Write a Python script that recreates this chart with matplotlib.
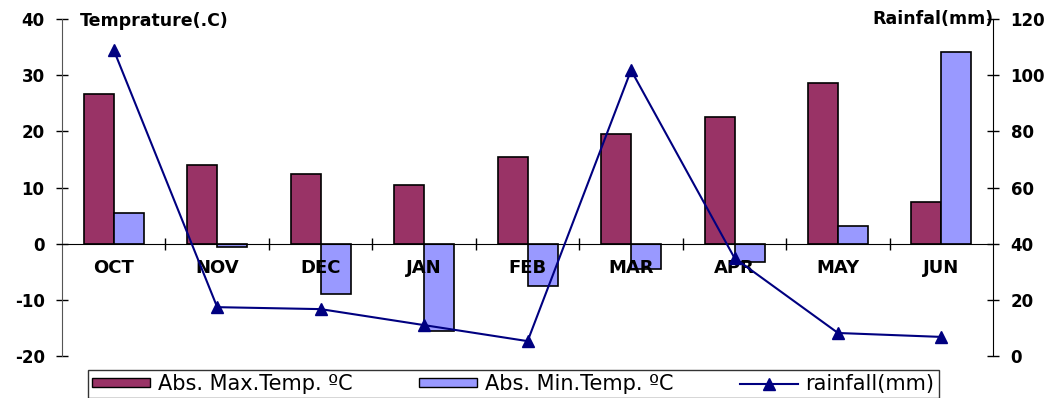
import numpy as np
import matplotlib.pyplot as plt
from matplotlib.patches import Patch
from matplotlib.lines import Line2D

plt.rcParams['font.family'] = ['DejaVu Sans']
plt.rcParams['axes.unicode_minus'] = False

months = ["OCT", "NOV", "DEC", "JAN", "FEB", "MAR", "APR", "MAY", "JUN"]
max_temp = [26.6, 14.1, 12.5, 10.4, 15.5, 19.6, 22.5, 28.7, 7.5]
min_temp = [5.4, -0.5, -8.9, -15.6, -7.6, -4.5, -3.2, 3.2, 34.1]
rainfall = [109, 17.4, 16.7, 11, 5.3, 101.8, 34.9, 8.2, 6.8]

max_color = "#993366"
min_color = "#9999FF"
rain_color = "#000080"

x = np.arange(len(months))
w = 0.29

fig = plt.figure(figsize=(10.51, 3.98), dpi=100)
ax = fig.add_axes([0.059, 0.1055, 0.886, 0.8465])

ax.bar(x - w / 2, max_temp, w, color=max_color, edgecolor="black", linewidth=1.2, zorder=1)
ax.bar(x + w / 2, min_temp, w, color=min_color, edgecolor="black", linewidth=1.2, zorder=1)

ax.set_xlim(-0.5, len(months) - 0.5)
ax.set_ylim(-20, 40)
ax.set_yticks([-20, -10, 0, 10, 20, 30, 40])
ax.tick_params(axis="y", direction="inout", length=9, width=1, labelsize=12, pad=8)
for t in ax.get_yticklabels():
    t.set_fontweight("bold")

# category axis sits on the zero line
ax.spines["bottom"].set_position(("data", 0))
ax.spines["top"].set_visible(False)
ax.spines["right"].set_visible(False)
ax.spines["left"].set_color("#555555")
ax.set_xticks(np.arange(0.5, len(months) - 1, 1.0))
ax.set_xticklabels([])
ax.set_xticks(x, minor=True)
ax.set_xticklabels(months, minor=True, fontsize=13, fontweight="bold")
ax.tick_params(axis="x", which="major", direction="inout", length=8, width=1)
ax.tick_params(axis="x", which="minor", length=0, pad=11)

ax.text(0.019, 0.995, "Temprature(.C)", transform=ax.transAxes, fontsize=12.5,
        fontweight="bold", ha="left", va="center")

ax2 = ax.twinx()
ax2.plot(x, rainfall, color=rain_color, linewidth=1.5, marker="^", markersize=9, zorder=3)
ax2.set_ylim(0, 120)
ax2.set_yticks([0, 20, 40, 60, 80, 100, 120])
ax2.tick_params(axis="y", direction="inout", length=9, width=1, labelsize=12, pad=8)
for t in ax2.get_yticklabels():
    t.set_fontweight("bold")
for s in ["top", "bottom", "left"]:
    ax2.spines[s].set_visible(False)
ax2.text(1.0, 1.0, "Rainfal(mm)", transform=ax2.transAxes, fontsize=12.5,
         fontweight="bold", ha="right", va="center")

handles = [
    Patch(facecolor=max_color, edgecolor="black", linewidth=1),
    Patch(facecolor=min_color, edgecolor="black", linewidth=1),
    Line2D([], [], color=rain_color, linewidth=1.5, marker="^", markersize=9),
]
labels = ["Abs. Max.Temp. ºC", "Abs. Min.Temp. ºC", "rainfall(mm)"]
leg = fig.legend(handles, labels, loc="upper left", bbox_to_anchor=(0.0837, 0.0704),
                 ncol=3, fontsize=15, frameon=True, fancybox=False, borderpad=0.2,
                 handlelength=2.8, handleheight=0.33, handletextpad=0.35, columnspacing=3.2,
                 borderaxespad=0)
leg.get_frame().set_edgecolor("black")
leg.get_frame().set_linewidth(1)

fig.savefig("out.png", dpi=100)
